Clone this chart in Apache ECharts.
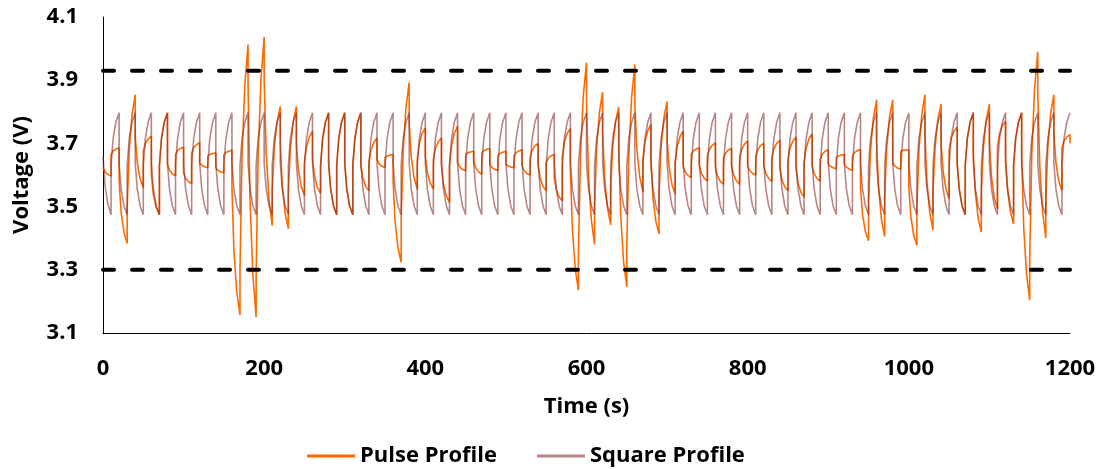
<!DOCTYPE html>
<html>
<head>
<meta charset="utf-8">
<script src="https://cdn.jsdelivr.net/npm/echarts@6/dist/echarts.min.js"></script>
<style>
html,body{margin:0;padding:0;background:#fff;}
#chart{width:1103px;height:469px;}
</style>
</head>
<body>
<div id="chart"></div>
<script>
// ---- data ----
const xTickLabels = ['0','200','400','600','800','1000','1200'];
const yTickLabels = ['3.1','3.3','3.5','3.7','3.9','4.1'];
const seriesNames = ['Pulse Profile','Square Profile'];
const halfCycleSeconds = 10;             // each half cycle lasts 10 s
const halfCycleOffsets = [0, 2.5, 6, 10]; // sample times inside a half cycle (s)
const upperLimit = 3.93;
const lowerLimit = 3.30;
const timeRange = [0, 1200];

// voltages at the sample times of each 10 s half cycle (first value = just after the step)
const pulseHalves = [
[3.623,3.610,3.602,3.597],[3.665,3.676,3.682,3.686],[3.58,3.482,3.419,3.383],[3.50,3.677,3.790,3.854],
[3.72,3.64,3.589,3.56],[3.675,3.699,3.714,3.723],[3.60,3.537,3.497,3.474],[3.63,3.714,3.767,3.797],
[3.635,3.616,3.604,3.597],[3.665,3.677,3.684,3.688],[3.607,3.590,3.579,3.573],[3.67,3.686,3.696,3.702],
[3.639,3.631,3.626,3.623],[3.66,3.665,3.668,3.67],[3.623,3.615,3.610,3.607],[3.664,3.671,3.675,3.678],
[3.56,3.359,3.230,3.157],[3.30,3.657,3.885,4.013],[3.88,3.516,3.282,3.151],[3.28,3.659,3.901,4.037],
[3.90,3.67,3.523,3.44],[3.55,3.684,3.769,3.817],[3.70,3.565,3.479,3.43],[3.55,3.684,3.769,3.817],
[3.70,3.617,3.564,3.534],[3.64,3.689,3.720,3.738],[3.65,3.596,3.561,3.542],[3.63,3.714,3.767,3.797],
[3.637,3.556,3.503,3.474],[3.63,3.714,3.767,3.797],[3.637,3.556,3.503,3.474],[3.63,3.714,3.767,3.797],
[3.63,3.59,3.564,3.55],[3.64,3.679,3.703,3.717],[3.649,3.636,3.628,3.623],[3.655,3.660,3.663,3.665],
[3.58,3.452,3.370,3.324],[3.46,3.677,3.815,3.893],[3.76,3.658,3.592,3.555],[3.65,3.70,3.731,3.749],
[3.66,3.608,3.574,3.555],[3.65,3.684,3.705,3.717],[3.63,3.572,3.534,3.513],[3.63,3.692,3.732,3.754],
[3.64,3.627,3.618,3.613],[3.665,3.670,3.673,3.675],[3.644,3.623,3.610,3.602],[3.67,3.677,3.681,3.683],
[3.634,3.624,3.618,3.614],[3.66,3.668,3.672,3.675],[3.634,3.629,3.625,3.623],[3.66,3.67,3.676,3.68],
[3.63,3.615,3.605,3.60],[3.655,3.678,3.692,3.70],[3.63,3.59,3.564,3.55],[3.64,3.653,3.661,3.665],
[3.59,3.554,3.531,3.518],[3.66,3.704,3.731,3.747],[3.62,3.428,3.304,3.235],[3.36,3.658,3.849,3.956],
[3.82,3.60,3.459,3.38],[3.50,3.681,3.797,3.862],[3.74,3.591,3.496,3.442],[3.56,3.688,3.769,3.815],
[3.69,3.468,3.326,3.246],[3.37,3.66,3.846,3.95],[3.82,3.683,3.595,3.545],[3.65,3.705,3.740,3.76],
[3.64,3.527,3.454,3.413],[3.54,3.687,3.780,3.833],[3.71,3.625,3.570,3.539],[3.64,3.690,3.721,3.739],
[3.628,3.61,3.598,3.592],[3.665,3.676,3.682,3.686],[3.63,3.606,3.590,3.581],[3.66,3.681,3.694,3.702],
[3.623,3.597,3.580,3.571],[3.654,3.669,3.679,3.684],[3.63,3.601,3.582,3.571],[3.655,3.681,3.698,3.707],
[3.63,3.615,3.605,3.60],[3.66,3.68,3.693,3.70],[3.63,3.605,3.589,3.58],[3.655,3.683,3.700,3.71],
[3.62,3.585,3.563,3.55],[3.65,3.685,3.707,3.72],[3.62,3.575,3.546,3.53],[3.64,3.685,3.714,3.73],
[3.63,3.605,3.589,3.58],[3.65,3.665,3.675,3.68],[3.635,3.628,3.623,3.62],[3.655,3.66,3.663,3.665],
[3.635,3.625,3.619,3.615],[3.66,3.671,3.677,3.681],[3.56,3.476,3.422,3.392],[3.52,3.679,3.781,3.838],
[3.71,3.558,3.460,3.405],[3.53,3.684,3.783,3.838],[3.64,3.629,3.622,3.618],[3.675,3.678,3.679,3.68],
[3.56,3.469,3.410,3.377],[3.50,3.677,3.790,3.854],[3.73,3.578,3.481,3.426],[3.55,3.687,3.775,3.824],
[3.70,3.612,3.556,3.524],[3.68,3.716,3.738,3.751],[3.637,3.556,3.503,3.474],[3.63,3.714,3.767,3.797],
[3.67,3.545,3.464,3.419],[3.55,3.687,3.775,3.824],[3.70,3.596,3.529,3.492],[3.69,3.73,3.756,3.77],
[3.66,3.553,3.484,3.445],[3.63,3.714,3.767,3.797],[3.67,3.437,3.288,3.204],[3.33,3.66,3.871,3.99],
[3.86,3.63,3.483,3.40],[3.52,3.687,3.794,3.854],[3.73,3.64,3.582,3.55],[3.686,3.707,3.720,3.728]
];
const pulseFinal = 3.70;

// 30 rows x 4 half cycles = 120 half cycles (0-1200 s)
const squareHalves = [
/* 0-40 s */    [3.66,3.567,3.508,3.474],[3.63,3.714,3.767,3.797],[3.637,3.556,3.503,3.474],[3.63,3.714,3.767,3.797],
/* 40-80 s */   [3.637,3.556,3.503,3.474],[3.63,3.714,3.767,3.797],[3.637,3.556,3.503,3.474],[3.63,3.714,3.767,3.797],
/* 80-120 s */  [3.637,3.556,3.503,3.474],[3.63,3.714,3.767,3.797],[3.637,3.556,3.503,3.474],[3.63,3.714,3.767,3.797],
/* 120-160 s */ [3.637,3.556,3.503,3.474],[3.63,3.714,3.767,3.797],[3.637,3.556,3.503,3.474],[3.63,3.714,3.767,3.797],
/* 160-200 s */ [3.637,3.556,3.503,3.474],[3.63,3.714,3.767,3.797],[3.637,3.556,3.503,3.474],[3.63,3.714,3.767,3.797],
/* 200-240 s */ [3.637,3.556,3.503,3.474],[3.63,3.714,3.767,3.797],[3.637,3.556,3.503,3.474],[3.63,3.714,3.767,3.797],
/* 240-280 s */ [3.637,3.556,3.503,3.474],[3.63,3.714,3.767,3.797],[3.637,3.556,3.503,3.474],[3.63,3.714,3.767,3.797],
/* 280-320 s */ [3.637,3.556,3.503,3.474],[3.63,3.714,3.767,3.797],[3.637,3.556,3.503,3.474],[3.63,3.714,3.767,3.797],
/* 320-360 s */ [3.637,3.556,3.503,3.474],[3.63,3.714,3.767,3.797],[3.637,3.556,3.503,3.474],[3.63,3.714,3.767,3.797],
/* 360-400 s */ [3.637,3.556,3.503,3.474],[3.63,3.714,3.767,3.797],[3.637,3.556,3.503,3.474],[3.63,3.714,3.767,3.797],
/* 400-440 s */ [3.637,3.556,3.503,3.474],[3.63,3.714,3.767,3.797],[3.637,3.556,3.503,3.474],[3.63,3.714,3.767,3.797],
/* 440-480 s */ [3.637,3.556,3.503,3.474],[3.63,3.714,3.767,3.797],[3.637,3.556,3.503,3.474],[3.63,3.714,3.767,3.797],
/* 480-520 s */ [3.637,3.556,3.503,3.474],[3.63,3.714,3.767,3.797],[3.637,3.556,3.503,3.474],[3.63,3.714,3.767,3.797],
/* 520-560 s */ [3.637,3.556,3.503,3.474],[3.63,3.714,3.767,3.797],[3.637,3.556,3.503,3.474],[3.63,3.714,3.767,3.797],
/* 560-600 s */ [3.637,3.556,3.503,3.474],[3.63,3.714,3.767,3.797],[3.637,3.556,3.503,3.474],[3.63,3.714,3.767,3.797],
/* 600-640 s */ [3.637,3.556,3.503,3.474],[3.63,3.714,3.767,3.797],[3.637,3.556,3.503,3.474],[3.63,3.714,3.767,3.797],
/* 640-680 s */ [3.637,3.556,3.503,3.474],[3.63,3.714,3.767,3.797],[3.637,3.556,3.503,3.474],[3.63,3.714,3.767,3.797],
/* 680-720 s */ [3.637,3.556,3.503,3.474],[3.63,3.714,3.767,3.797],[3.637,3.556,3.503,3.474],[3.63,3.714,3.767,3.797],
/* 720-760 s */ [3.637,3.556,3.503,3.474],[3.63,3.714,3.767,3.797],[3.637,3.556,3.503,3.474],[3.63,3.714,3.767,3.797],
/* 760-800 s */ [3.637,3.556,3.503,3.474],[3.63,3.714,3.767,3.797],[3.637,3.556,3.503,3.474],[3.63,3.714,3.767,3.797],
/* 800-840 s */ [3.637,3.556,3.503,3.474],[3.63,3.714,3.767,3.797],[3.637,3.556,3.503,3.474],[3.63,3.714,3.767,3.797],
/* 840-880 s */ [3.637,3.556,3.503,3.474],[3.63,3.714,3.767,3.797],[3.637,3.556,3.503,3.474],[3.63,3.714,3.767,3.797],
/* 880-920 s */ [3.637,3.556,3.503,3.474],[3.63,3.714,3.767,3.797],[3.637,3.556,3.503,3.474],[3.63,3.714,3.767,3.797],
/* 920-960 s */ [3.637,3.556,3.503,3.474],[3.63,3.714,3.767,3.797],[3.637,3.556,3.503,3.474],[3.63,3.714,3.767,3.797],
/* 960-1000 s */ [3.637,3.556,3.503,3.474],[3.63,3.714,3.767,3.797],[3.637,3.556,3.503,3.474],[3.63,3.714,3.767,3.797],
/* 1000-1040 s */ [3.637,3.556,3.503,3.474],[3.63,3.714,3.767,3.797],[3.637,3.556,3.503,3.474],[3.63,3.714,3.767,3.797],
/* 1040-1080 s */ [3.637,3.556,3.503,3.474],[3.63,3.714,3.767,3.797],[3.637,3.556,3.503,3.474],[3.63,3.714,3.767,3.797],
/* 1080-1120 s */ [3.637,3.556,3.503,3.474],[3.63,3.714,3.767,3.797],[3.637,3.556,3.503,3.474],[3.63,3.714,3.767,3.797],
/* 1120-1160 s */ [3.637,3.556,3.503,3.474],[3.63,3.714,3.767,3.797],[3.637,3.556,3.503,3.474],[3.63,3.714,3.767,3.797],
/* 1160-1200 s */ [3.637,3.556,3.503,3.474],[3.63,3.714,3.767,3.797],[3.637,3.556,3.503,3.474],[3.63,3.714,3.767,3.797]
];

// ---- build [time, voltage] pairs ----
function toPoints(halves, finalValue) {
  const pts = [];
  halves.forEach((h, k) => {
    halfCycleOffsets.forEach((o, i) => pts.push([k * halfCycleSeconds + o, h[i]]));
  });
  if (finalValue !== undefined) pts.push([halves.length * halfCycleSeconds, finalValue]);
  return pts;
}

const font = { fontFamily: 'Open Sans', fontWeight: 'bold', fontSize: 22, color: '#000' };
const pulseColor = '#FF6A00';
const squareColor = 'rgba(135,45,45,0.58)';

const chart = echarts.init(document.getElementById('chart'), null, { renderer: 'canvas' });
chart.setOption({
  animation: false,
  backgroundColor: '#fff',
  grid: { left: 103, right: 33, top: 17, bottom: 136, containLabel: false },
  legend: {
    data: seriesNames,
    left: 302, top: 440,
    icon: 'rect',
    itemWidth: 48, itemHeight: 3, itemGap: 40,
    textStyle: font
  },
  xAxis: {
    type: 'value',
    min: timeRange[0], max: timeRange[1], interval: 200,
    name: 'Time (s)', nameLocation: 'middle', nameGap: 63,
    nameTextStyle: font,
    axisLine: { show: true, onZero: false, lineStyle: { color: '#000', width: 1 } },
    axisTick: { show: false },
    splitLine: { show: false },
    axisLabel: Object.assign({}, font, {
      margin: 25,
      formatter: v => { const s = String(Math.round(v)); return xTickLabels.includes(s) ? s : ''; }
    })
  },
  yAxis: {
    type: 'value',
    min: 3.1, max: 4.1, interval: 0.1,
    name: 'Voltage (V)', nameLocation: 'middle', nameGap: 70, nameRotate: 90,
    nameTextStyle: font,
    axisLine: { show: true, lineStyle: { color: '#000', width: 1 } },
    axisTick: { show: false },
    splitLine: { show: false },
    axisLabel: Object.assign({}, font, {
      margin: 25,
      formatter: v => { const s = v.toFixed(1); return yTickLabels.includes(s) ? s : ''; }
    })
  },
  series: [
    {
      name: seriesNames[0], type: 'line', symbol: 'none', showSymbol: false,
      data: toPoints(pulseHalves, pulseFinal),
      lineStyle: { color: pulseColor, width: 1.6 },
      itemStyle: { color: pulseColor },
      z: 2
    },
    {
      name: seriesNames[1], type: 'line', symbol: 'none', showSymbol: false,
      data: toPoints(squareHalves),
      lineStyle: { color: squareColor, width: 1.6 },
      itemStyle: { color: squareColor },
      z: 3
    },
    {
      name: 'upper', type: 'line', symbol: 'none', silent: true,
      data: [[timeRange[0], upperLimit], [timeRange[1], upperLimit]],
      lineStyle: { color: '#000', width: 4, type: [11, 18], cap: 'round' },
      z: 5
    },
    {
      name: 'lower', type: 'line', symbol: 'none', silent: true,
      data: [[timeRange[0], lowerLimit], [timeRange[1], lowerLimit]],
      lineStyle: { color: '#000', width: 4, type: [11, 18], cap: 'round' },
      z: 5
    }
  ]
});
</script>
</body>
</html>
